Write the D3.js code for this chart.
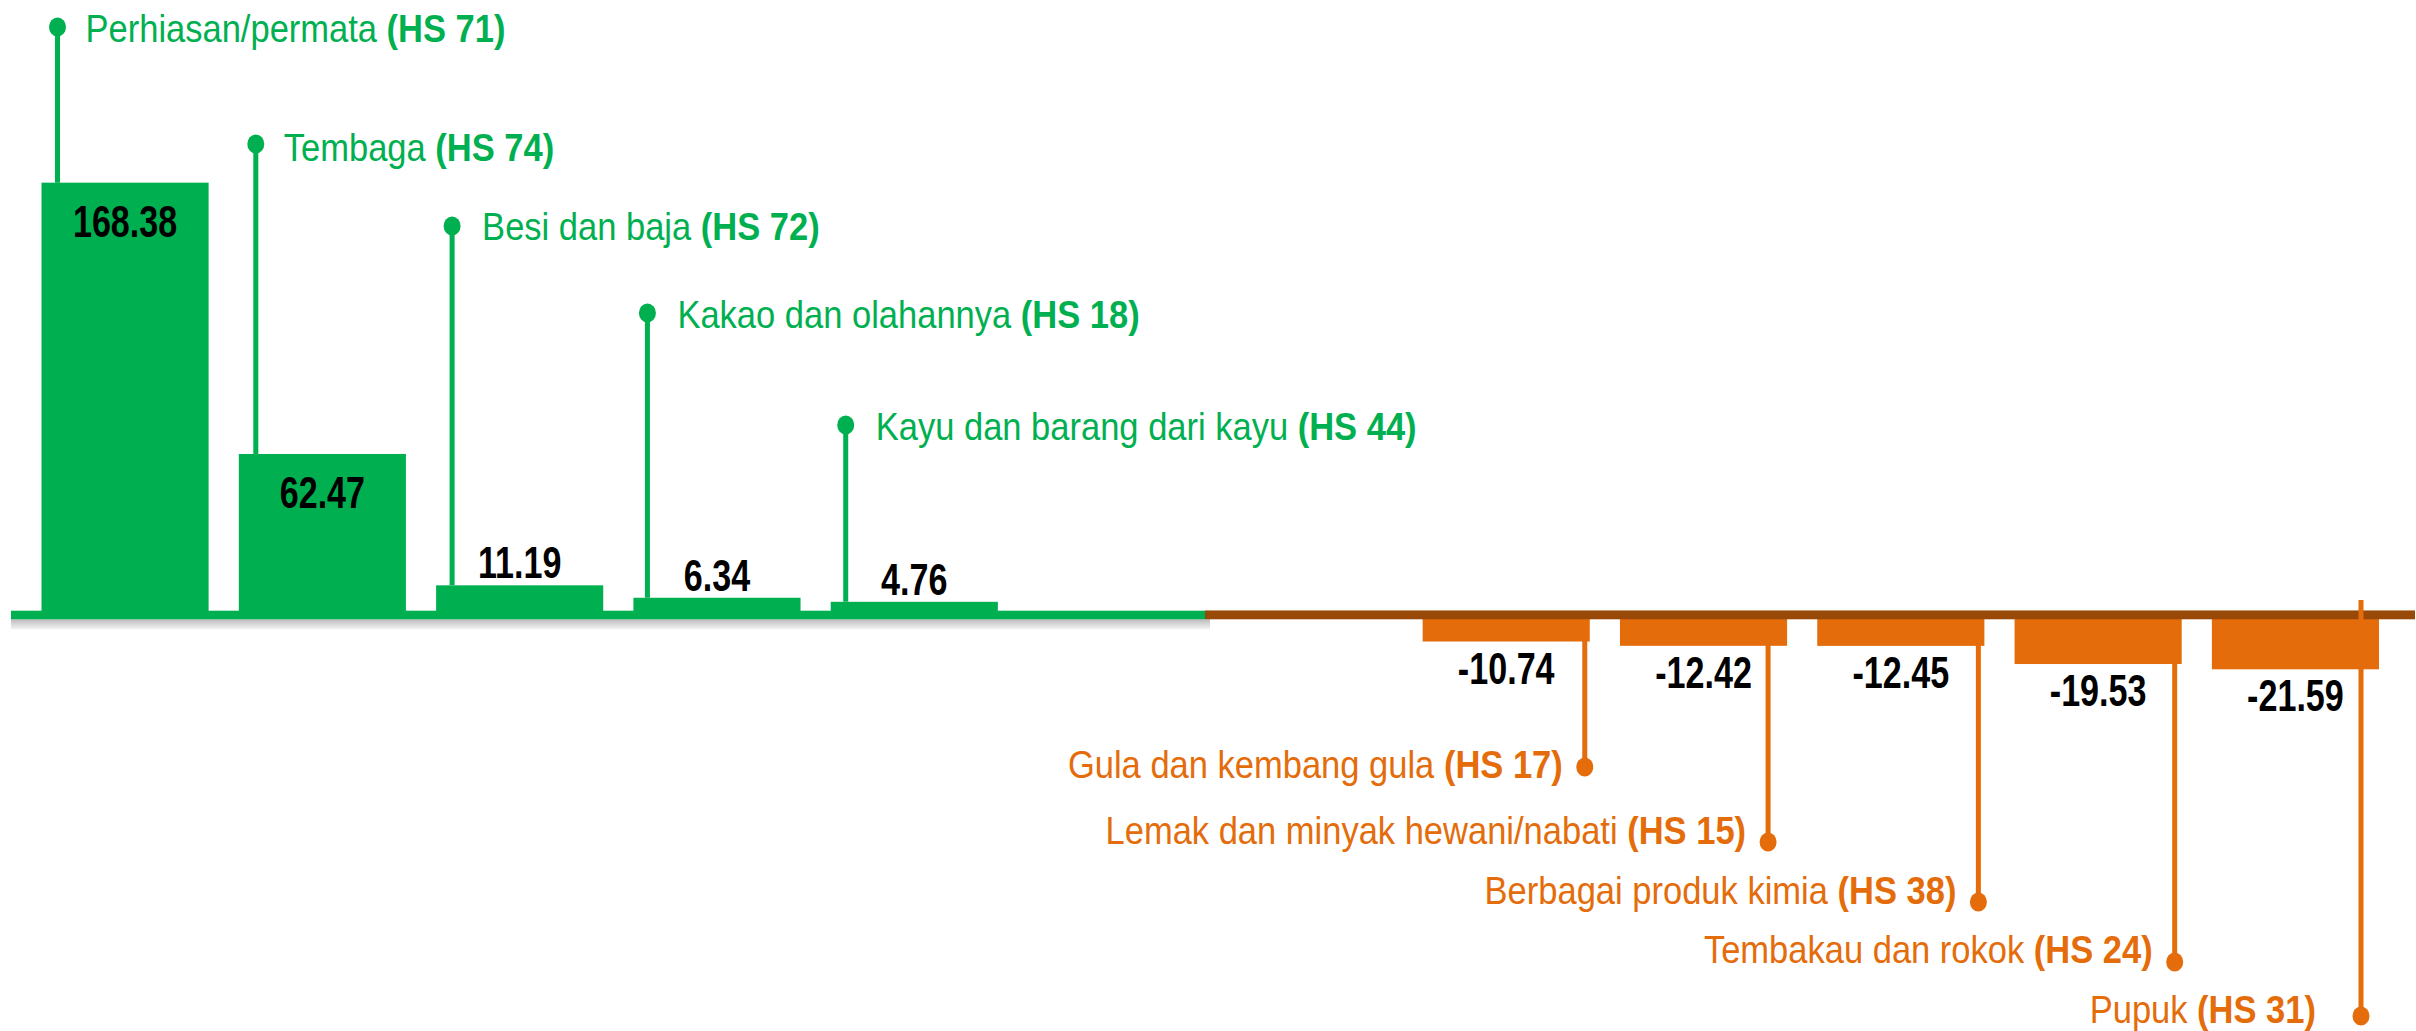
<!DOCTYPE html>
<html lang="id">
<head>
<meta charset="UTF-8">
<title>Neraca perdagangan per komoditas</title>
<script src="https://d3js.org/d3.v7.min.js"></script>
<style>
  html, body { margin: 0; padding: 0; background: #fff; }
  svg text { font-family: "Liberation Sans", Arial, sans-serif; }
</style>
</head>
<body>
<div id="chart"></div>
<script>
// data
const categories = ["Perhiasan/permata", "Tembaga", "Besi dan baja", "Kakao dan olahannya",
  "Kayu dan barang dari kayu", "Gula dan kembang gula", "Lemak dan minyak hewani/nabati",
  "Berbagai produk kimia", "Tembakau dan rokok", "Pupuk"];
const hsCodes = ["HS 71", "HS 74", "HS 72", "HS 18", "HS 44", "HS 17", "HS 15", "HS 38", "HS 24", "HS 31"];
const values = [168.38, 62.47, 11.19, 6.34, 4.76, -10.74, -12.42, -12.45, -19.53, -21.59];

// callout layout (hand placed in the original)
const dotY = [27, 144, 226, 313, 425, 767, 842, 902, 962, 1016];
const textY = [42, 161, 240, 328, 440, 778, 844, 904, 963, 1023];
const lineDx = [16, 17, 16, 14, 15, -5, -19, -6, -7, -18];
const textGap = [28, 28, 30, 30, 30, 22, 22, 22, 22, 45];

const W = 2416, H = 1031;
const green = "#00b050", orange = "#e46c0a", brown = "#984807";
// no narrow font installed: squeeze Liberation Sans to look like Arial Narrow
const narrowLabel = 0.885, narrowValue = 0.775;

const rows = categories.map((c, i) => ({ name: c, hs: hsCodes[i], value: values[i], i }));
const pos = rows.filter(d => d.value >= 0), neg = rows.filter(d => d.value < 0);
// two empty slots between the surplus and the deficit groups
const domain = pos.map(d => d.name).concat(["_gap1", "_gap2"], neg.map(d => d.name));

const x = d3.scaleBand().domain(domain).range([41.5, 2379]).paddingInner(0.153).paddingOuter(0);
const y = d3.scaleLinear().domain([-25, 175]).range([678.04, 165.7]);

const svg = d3.select("#chart").append("svg")
  .attr("width", W).attr("height", H);

const defs = svg.append("defs");
const grad = defs.append("linearGradient").attr("id", "shade").attr("x1", 0).attr("y1", 0).attr("x2", 0).attr("y2", 1);
grad.append("stop").attr("offset", "0%").attr("stop-color", "#bcbcbc");
grad.append("stop").attr("offset", "100%").attr("stop-color", "#f4f4f4");

// bars
svg.selectAll("rect.bar")
  .data(rows)
  .enter()
  .append("rect")
  .attr("class", "bar")
  .attr("x", d => x(d.name))
  .attr("width", x.bandwidth())
  .attr("y", d => Math.min(y(d.value), y(0)))
  .attr("height", d => Math.abs(y(d.value) - y(0)))
  .attr("fill", d => d.value >= 0 ? green : orange);

// zero line: green under the surplus part, brown under the deficit part
const split = 1205;
svg.append("rect").attr("x", 11).attr("y", y(0) + 5.3).attr("width", split - 11 + 5).attr("height", 10)
  .attr("fill", "url(#shade)");
svg.append("rect").attr("x", 11).attr("y", y(0) - 3.3).attr("width", split - 11).attr("height", 8.6)
  .attr("fill", green);
svg.append("rect").attr("x", split).attr("y", y(0) - 4).attr("width", W - 1 - split).attr("height", 1)
  .attr("fill", "#d9bca4");
svg.append("rect").attr("x", split).attr("y", y(0) - 3.3).attr("width", W - 1 - split).attr("height", 8.6)
  .attr("fill", brown);

// callout lines and dots
const lineX = d => d.value >= 0 ? x(d.name) + lineDx[d.i] : x(d.name) + x.bandwidth() + lineDx[d.i];

svg.selectAll("line.callout")
  .data(rows)
  .enter()
  .append("line")
  .attr("class", "callout")
  .attr("x1", lineX).attr("x2", lineX)
  .attr("y1", d => dotY[d.i])
  .attr("y2", d => d.value >= 0 ? y(d.value) : (d.i === rows.length - 1 ? y(0) - 14 : y(0) + 18))
  .attr("stroke", d => d.value >= 0 ? green : orange)
  .attr("stroke-width", 5);

svg.selectAll("ellipse.dot")
  .data(rows)
  .enter()
  .append("ellipse")
  .attr("class", "dot")
  .attr("cx", lineX)
  .attr("cy", d => dotY[d.i])
  .attr("rx", 8.5).attr("ry", 9.5)
  .attr("fill", d => d.value >= 0 ? green : orange);

// callout texts
const labels = svg.selectAll("text.callout")
  .data(rows)
  .enter()
  .append("text")
  .attr("class", "callout")
  .attr("transform", d => {
    const tx = d.value >= 0 ? lineX(d) + textGap[d.i] : lineX(d) - textGap[d.i];
    return "translate(" + tx + "," + textY[d.i] + ") scale(" + narrowLabel + ",1)";
  })
  .attr("text-anchor", d => d.value >= 0 ? "start" : "end")
  .attr("font-size", 39)
  .attr("fill", d => d.value >= 0 ? green : orange);
labels.append("tspan").text(d => d.name + " ");
labels.append("tspan").attr("font-weight", "bold").text(d => "(" + d.hs + ")");

// value labels
svg.selectAll("text.value")
  .data(rows)
  .enter()
  .append("text")
  .attr("class", "value")
  .attr("transform", d => {
    const tx = x(d.name) + x.bandwidth() / 2;
    let ty;
    if (d.value < 0) ty = y(d.value) + 42;
    else ty = (y(0) - y(d.value)) > 100 ? y(d.value) + 54 : y(d.value) - 7;
    return "translate(" + tx + "," + ty + ") scale(" + narrowValue + ",1)";
  })
  .attr("text-anchor", "middle")
  .attr("font-size", 44)
  .attr("font-weight", "bold")
  .attr("fill", "#000")
  .text(d => d.value.toFixed(2));
</script>
</body>
</html>
